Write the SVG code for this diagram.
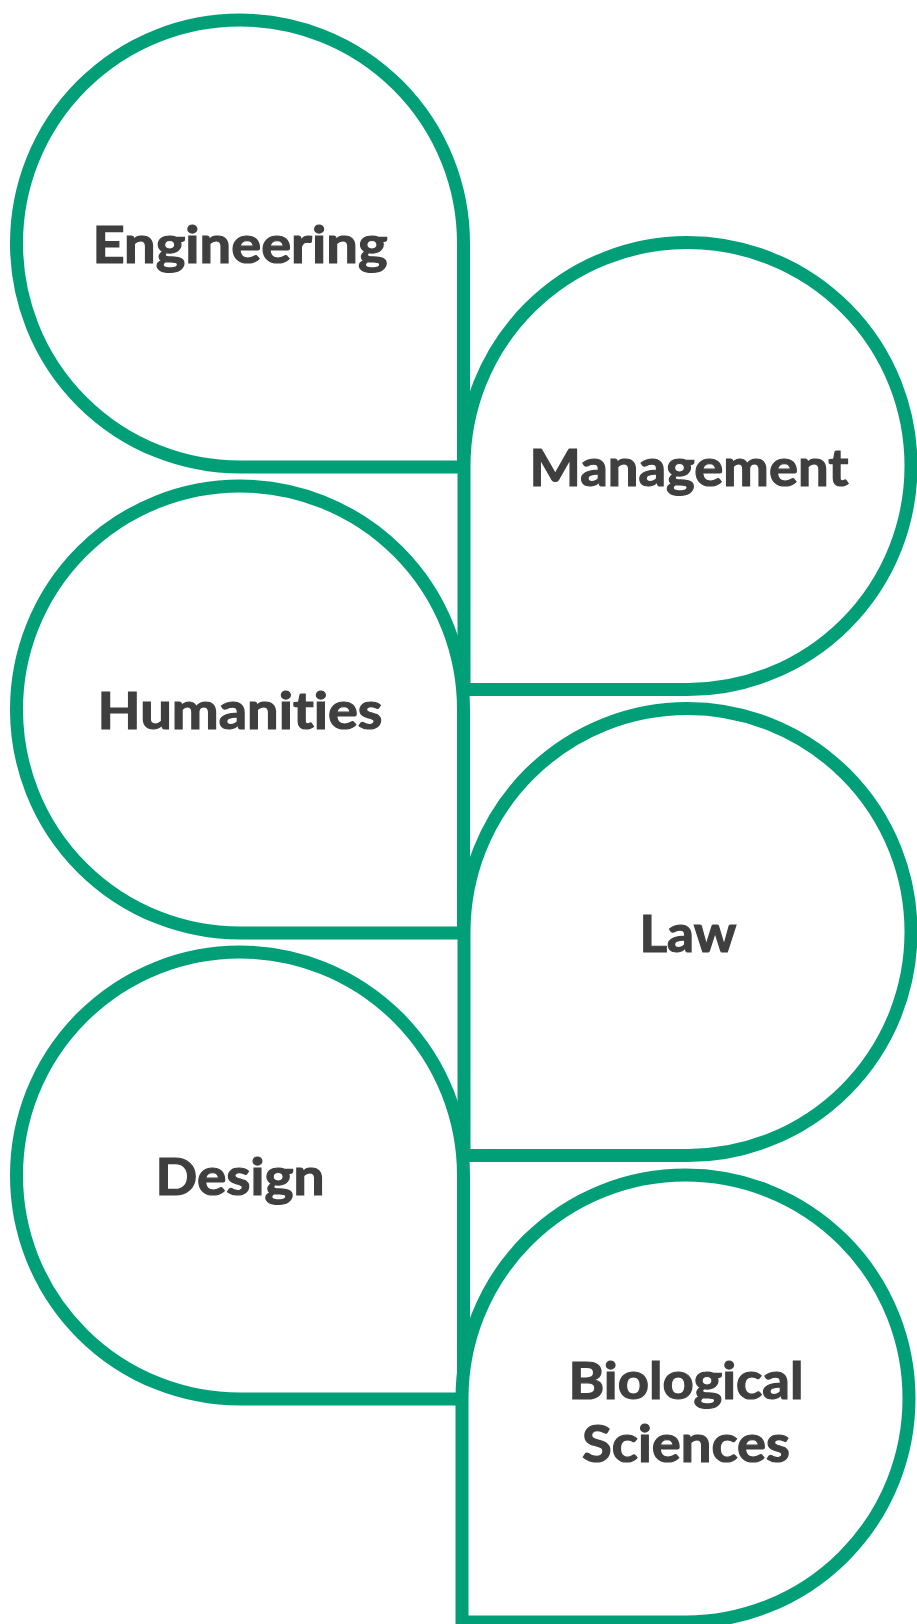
<svg xmlns="http://www.w3.org/2000/svg" width="917" height="1624" viewBox="0 0 917 1624">
<style>
.shape{fill:#ffffff;stroke:#009f78;stroke-width:13;stroke-linejoin:miter}
.lbl{font-family:Lato,"Open Sans","Liberation Sans",sans-serif;font-weight:700;font-size:52px;fill:#3f3f3f;stroke:#3f3f3f;stroke-width:1.2;text-anchor:middle;font-variant-ligatures:none;font-feature-settings:"liga" 0,"clig" 0}
</style>
<rect width="917" height="1624" fill="#ffffff"/>
<g id="engineering">
<path class="shape" d="M240,20 A223.5,223.5 0 0 0 16.5,243.5 A223.5,223.5 0 0 0 240,467 L463.5,467 L463.5,243.5 A223.5,223.5 0 0 0 240,20 Z"/>
<text class="lbl" x="240" y="263" textLength="295" lengthAdjust="spacingAndGlyphs">Engineering</text>
</g>
<g id="management">
<path class="shape" d="M464,466 A223.5,223.5 0 0 1 687.5,242.5 A223.5,223.5 0 0 1 911,466 A223.5,223.5 0 0 1 687.5,689.5 L464,689.5 Z"/>
<text class="lbl" x="689" y="486" textLength="319" lengthAdjust="spacingAndGlyphs">Management</text>
</g>
<g id="humanities">
<path class="shape" d="M240,486 A223.5,223.5 0 0 0 16.5,709.5 A223.5,223.5 0 0 0 240,933 L463.5,933 L463.5,709.5 A223.5,223.5 0 0 0 240,486 Z"/>
<text class="lbl" x="240" y="729" textLength="285" lengthAdjust="spacingAndGlyphs">Humanities</text>
</g>
<g id="law">
<path class="shape" d="M464,932 A223.5,223.5 0 0 1 687.5,708.5 A223.5,223.5 0 0 1 911,932 A223.5,223.5 0 0 1 687.5,1155.5 L464,1155.5 Z"/>
<text class="lbl" x="688" y="951.5" textLength="97" lengthAdjust="spacingAndGlyphs">Law</text>
</g>
<g id="design">
<path class="shape" d="M240,952 A223.5,223.5 0 0 0 16.5,1175.5 A223.5,223.5 0 0 0 240,1399 L463.5,1399 L463.5,1175.5 A223.5,223.5 0 0 0 240,952 Z"/>
<text class="lbl" x="240" y="1195" textLength="169" lengthAdjust="spacingAndGlyphs">Design</text>
</g>
<g id="biological-sciences">
<path class="shape" d="M462,1398.5 A223.5,223.5 0 0 1 685.5,1175 A223.5,223.5 0 0 1 909,1398.5 A223.5,223.5 0 0 1 685.5,1622 L462,1622 Z"/>
<text class="lbl" x="686" y="1399" textLength="235" lengthAdjust="spacingAndGlyphs">Biological</text>
<text class="lbl" x="686" y="1462" textLength="208" lengthAdjust="spacingAndGlyphs">Sciences</text>
</g>
</svg>
